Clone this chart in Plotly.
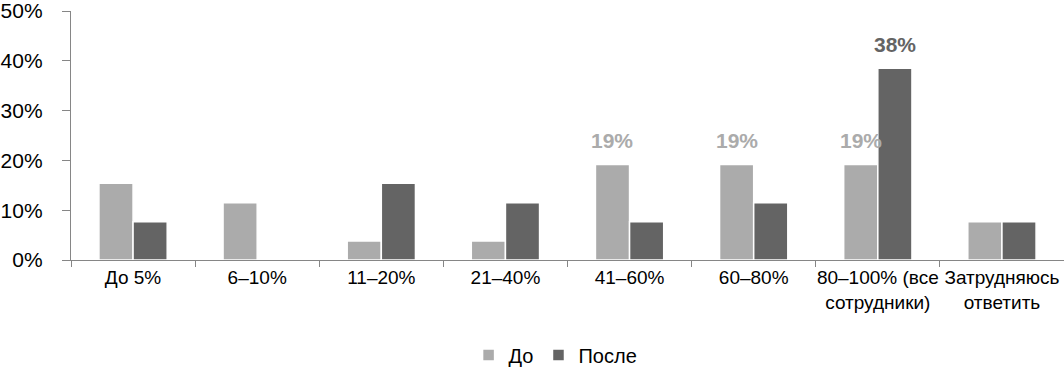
import plotly.graph_objects as go

categories = ["До 5%", "6–10%", "11–20%", "21–40%", "41–60%", "60–80%",
              "80–100% (все<br>сотрудники)", "Затрудняюсь<br>ответить"]
before_vals = [15.4, 11.5, 3.8, 3.8, 19.2, 19.2, 19.2, 7.7]
after_vals = [7.7, 0.0, 15.4, 11.5, 7.7, 11.5, 38.5, 7.7]
before_labels = ["", "", "", "", "19%", "19%", "19%", ""]
after_labels = ["", "", "", "", "", "", "38%", ""]
series_names = ["До", "После"]

LIGHT = "#ABABAB"
DARK = "#646464"
FONT = "Liberation Sans, Arial, sans-serif"

W, H = 1064, 367
ML, MR, MT, MB = 71, 0, 11, 107
BARGAP = 0.45

fig = go.Figure()
fig.add_trace(go.Bar(x=categories, y=before_vals, name=series_names[0],
                     marker=dict(color=LIGHT, line=dict(color="white", width=1.5))))
fig.add_trace(go.Bar(x=categories, y=after_vals, name=series_names[1],
                     marker=dict(color=DARK, line=dict(color="white", width=1.5))))

band = (W - ML - MR) / len(categories)
half_bar = band * (1 - BARGAP) / 4
for labels, vals, col, sign in [(before_labels, before_vals, LIGHT, -1),
                                 (after_labels, after_vals, DARK, 1)]:
    for c, v, t in zip(categories, vals, labels):
        if t:
            fig.add_annotation(x=c, y=v, text=f"<b>{t}</b>", showarrow=False,
                               xshift=sign * half_bar, yshift=24, yanchor="middle",
                               font=dict(size=21, color=col, family=FONT))

fig.update_layout(
    width=W, height=H,
    margin=dict(l=ML, r=MR, t=MT, b=MB, autoexpand=False),
    paper_bgcolor="white", plot_bgcolor="white",
    barmode="group", bargap=BARGAP, bargroupgap=0,
    font=dict(family=FONT, size=20, color="#000000"),
    showlegend=True,
    legend=dict(orientation="h", x=0.488, xanchor="center",
                yref="container", y=(H - 355) / H, yanchor="middle",
                font=dict(size=20), itemwidth=30, traceorder="normal"),
    xaxis=dict(showline=True, linecolor="#868686", linewidth=1.3,
               ticks="outside", tickson="boundaries", ticklen=6, tickcolor="#868686",
               showgrid=False, tickfont=dict(size=19), tickangle=0, automargin=False),
    yaxis=dict(range=[0, 50], dtick=10, ticksuffix="%", showline=True,
               linecolor="#868686", linewidth=1.3, ticks="outside", ticklen=8,
               tickcolor="#868686", showgrid=False, zeroline=False,
               tickfont=dict(size=21), ticklabelstandoff=15, automargin=False,
               ticklabeloverflow="allow"),
)

fig.write_html("out.html", config={"displayModeBar": False},
               post_script="document.body.style.margin='0';document.body.style.overflow='hidden';")
